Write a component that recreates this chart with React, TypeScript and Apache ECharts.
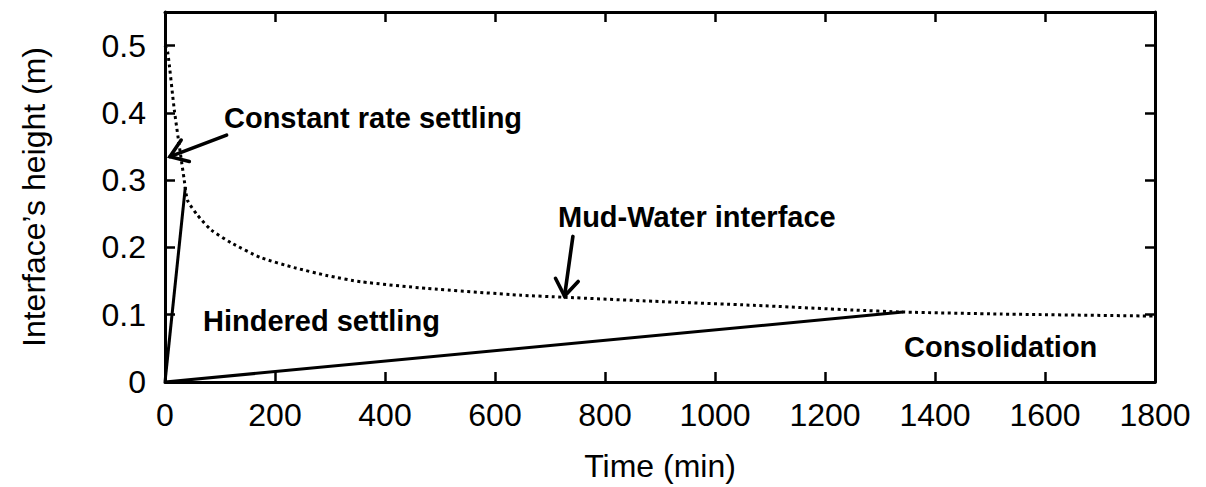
import React, { useEffect, useRef } from "react";
import * as echarts from "echarts";

// Mud-water interface (dotted curve)
const mudTime = [0, 5, 17, 35, 41, 59, 84, 120, 174, 235, 296, 356, 477, 647, 725, 888, 1070, 1251, 1342, 1520, 1800];
const mudHeight = [0.5, 0.49, 0.404, 0.3, 0.27, 0.248, 0.226, 0.207, 0.185, 0.17, 0.158, 0.149, 0.139, 0.129, 0.126, 0.12, 0.114, 0.107, 0.104, 0.101, 0.098];

// Constant rate settling tangent (solid)
const crTime = [0, 37];
const crHeight = [0, 0.29];

// Hindered settling tangent (solid)
const hsTime = [0, 1342];
const hsHeight = [0, 0.104];

// Axis ticks
const xTicks = [0, 200, 400, 600, 800, 1000, 1200, 1400, 1600, 1800];
const yTicks = [0, 0.1, 0.2, 0.3, 0.4, 0.5];

// Annotation arrows: [tailTime, tailHeight, tipTime, tipHeight]
const arrowConstant = [112, 0.367, 9, 0.335];
const arrowMud = [741.6, 0.2164, 726.5, 0.1277];

const FONT = "'Liberation Sans', Arial, Helvetica, sans-serif";

export default function App() {
  const ref = useRef<HTMLDivElement>(null);

  useEffect(() => {
    if (!ref.current) return;
    const chart = echarts.init(ref.current, null, { renderer: "svg" });
    const xMin = xTicks[0];
    const xMax = xTicks[xTicks.length - 1];
    const xInt = xTicks[1] - xTicks[0];
    const yInt = yTicks[1] - yTicks[0];

    const axisCommonX = {
      type: "value",
      min: xMin,
      max: xMax,
      interval: xInt,
      axisLine: { show: true, onZero: false, lineStyle: { color: "#000", width: 3 } },
      axisTick: { show: true, inside: true, length: 10, lineStyle: { color: "#000", width: 2.5 } },
      splitLine: { show: false },
    };
    const axisCommonY = {
      type: "value",
      min: 0,
      max: 0.55,
      interval: yInt,
      axisLine: { show: true, onZero: false, lineStyle: { color: "#000", width: 3 } },
      axisTick: { show: true, inside: true, length: 10, lineStyle: { color: "#000", width: 2.5 } },
      splitLine: { show: false },
    };

    chart.setOption({
      animation: false,
      backgroundColor: "#fff",
      grid: { left: 165, right: 51, top: 12, bottom: 104, containLabel: false },
      xAxis: [
        {
          ...axisCommonX,
          position: "bottom",
          name: "Time (min)",
          nameLocation: "middle",
          nameGap: 68,
          nameTextStyle: { fontFamily: FONT, fontSize: 32, color: "#000" },
          axisLabel: {
            show: true,
            margin: 17,
            fontFamily: FONT,
            fontSize: 32,
            color: "#000",
            formatter: (v: number) => String(v),
          },
        },
        { ...axisCommonX, position: "top", axisLabel: { show: false } },
      ],
      yAxis: [
        {
          ...axisCommonY,
          position: "left",
          name: "Interface\u2019s height (m)",
          nameLocation: "middle",
          nameGap: 115,
          nameTextStyle: { fontFamily: FONT, fontSize: 32, color: "#000" },
          axisLabel: {
            show: true,
            showMaxLabel: false,
            margin: 19,
            fontFamily: FONT,
            fontSize: 32,
            color: "#000",
            formatter: (v: number) => String(v),
          },
        },
        { ...axisCommonY, position: "right", axisLabel: { show: false } },
      ],
      series: [
        {
          type: "line",
          data: mudTime.map((t, i) => [t, mudHeight[i]]),
          smooth: 0.2,
          showSymbol: false,
          lineStyle: { color: "#000", width: 3, type: [3, 3.5] },
          z: 3,
        },
        {
          type: "line",
          data: crTime.map((t, i) => [t, crHeight[i]]),
          showSymbol: false,
          lineStyle: { color: "#000", width: 3 },
          z: 4,
        },
        {
          type: "line",
          data: hsTime.map((t, i) => [t, hsHeight[i]]),
          showSymbol: false,
          lineStyle: { color: "#000", width: 3 },
          z: 4,
        },
      ],
    });

    const arrowGraphic = (a: number[]) => {
      const tail = chart.convertToPixel({ xAxisIndex: 0, yAxisIndex: 0 }, [a[0], a[1]]) as number[];
      const tip = chart.convertToPixel({ xAxisIndex: 0, yAxisIndex: 0 }, [a[2], a[3]]) as number[];
      const ang = Math.atan2(tail[1] - tip[1], tail[0] - tip[0]);
      const spread = (35 * Math.PI) / 180;
      const len = 20;
      const w1 = [tip[0] + len * Math.cos(ang + spread), tip[1] + len * Math.sin(ang + spread)];
      const w2 = [tip[0] + len * Math.cos(ang - spread), tip[1] + len * Math.sin(ang - spread)];
      const style = { stroke: "#000", lineWidth: 3.6, fill: null, lineCap: "round", lineJoin: "miter" };
      return [
        { type: "line", shape: { x1: tail[0], y1: tail[1], x2: tip[0], y2: tip[1] }, style, z: 10 },
        { type: "polyline", shape: { points: [w1, tip, w2] }, style, z: 10 },
      ];
    };

    const label = (text: string, x: number, y: number) => ({
      type: "text",
      x,
      y,
      z: 10,
      style: {
        text,
        fill: "#000",
        font: `bold 29px ${FONT}`,
        textAlign: "left",
        textVerticalAlign: "middle",
      },
    });

    chart.setOption({
      graphic: [
        ...arrowGraphic(arrowConstant),
        ...arrowGraphic(arrowMud),
        label("Constant rate settling", 224, 118),
        label("Mud-Water interface", 558, 217),
        label("Hindered settling", 203, 321),
        label("Consolidation", 904, 347),
      ],
    });

    return () => chart.dispose();
  }, []);

  return (
    <div
      ref={ref}
      style={{ position: "fixed", left: 0, top: 0, width: 1206, height: 487, background: "#fff" }}
    />
  );
}
